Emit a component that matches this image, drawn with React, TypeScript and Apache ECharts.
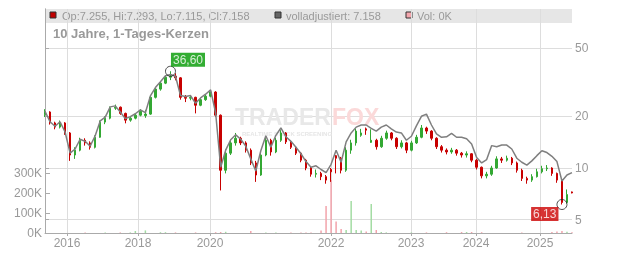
import React, { useEffect, useRef } from 'react';
import * as echarts from 'echarts';

// [open, close, low, high]
const candles: number[][] = [
  [20.5, 21.2, 19.8, 22.0], [21.2, 18.3, 17.9, 21.4], [18.3, 17.3, 16.8, 18.6], [17.3, 18.3, 17.0, 18.9],
  [18.3, 16.0, 15.6, 18.5], [16.0, 11.9, 11.0, 16.2], [11.9, 12.7, 11.3, 13.2], [12.7, 14.5, 12.5, 15.0],
  [14.5, 14.0, 13.5, 14.9], [14.0, 13.2, 12.8, 14.3], [13.2, 15.1, 13.0, 15.5], [15.1, 18.5, 15.0, 18.9],
  [18.5, 19.5, 18.0, 20.0], [19.5, 22.3, 19.2, 22.8], [22.3, 22.6, 21.8, 23.4], [22.6, 20.8, 20.4, 22.8],
  [20.8, 19.0, 18.2, 21.0], [19.0, 19.5, 18.6, 20.0], [19.5, 20.3, 19.2, 20.8], [20.3, 21.4, 20.0, 22.0],
  [20.2, 20.6, 19.6, 21.8], [20.6, 25.8, 20.4, 26.3], [25.8, 28.8, 25.4, 29.3], [28.8, 31.2, 28.2, 31.9],
  [31.2, 33.8, 30.8, 34.6], [33.8, 34.3, 32.5, 36.6], [34.3, 33.5, 32.4, 35.6], [33.5, 25.8, 25.0, 33.8],
  [25.8, 25.5, 24.2, 26.6], [25.5, 25.8, 24.8, 26.5], [25.8, 23.2, 20.8, 26.0], [23.2, 25.0, 22.9, 25.6],
  [25.0, 26.2, 24.6, 26.9], [26.2, 27.7, 25.8, 28.4], [27.7, 20.3, 19.8, 28.0], [20.3, 9.7, 7.4, 20.5],
  [9.7, 12.2, 9.3, 12.8], [12.2, 14.0, 11.9, 14.6], [14.0, 14.9, 13.5, 16.0], [14.9, 14.0, 13.6, 15.2],
  [14.0, 12.7, 12.3, 14.3], [12.7, 10.7, 10.4, 13.0], [10.7, 9.1, 8.3, 11.0], [9.1, 11.9, 9.0, 12.3],
  [11.9, 14.5, 11.7, 15.0], [14.5, 12.4, 11.8, 14.8], [12.4, 14.5, 12.2, 15.0], [14.5, 16.0, 14.2, 16.6],
  [16.0, 14.2, 13.8, 16.2], [14.2, 13.2, 12.9, 14.5], [13.2, 12.2, 11.9, 13.4], [12.2, 11.1, 10.8, 12.4],
  [11.1, 10.0, 9.7, 11.3], [10.0, 9.2, 8.9, 10.2], [9.2, 9.3, 8.8, 9.8], [9.3, 8.9, 8.5, 9.5],
  [8.9, 8.5, 8.1, 9.1], [9.8, 9.5, 8.3, 10.0], [11.8, 11.4, 9.3, 11.9], [11.4, 9.7, 9.3, 11.6],
  [9.7, 12.7, 9.5, 13.2], [12.7, 14.0, 12.1, 14.6], [14.0, 16.4, 13.5, 17.0], [15.5, 16.0, 15.2, 16.9],
  [16.9, 16.6, 15.6, 17.2], [14.1, 14.5, 14.0, 16.8], [14.5, 13.3, 12.8, 14.8], [13.3, 14.9, 13.1, 15.4],
  [14.9, 16.0, 14.6, 16.5], [16.0, 14.9, 14.5, 16.2], [14.9, 13.3, 12.9, 15.1], [13.3, 14.0, 13.0, 14.5],
  [14.0, 12.7, 12.2, 14.2], [12.7, 14.0, 12.5, 14.4], [14.0, 15.1, 13.8, 15.6], [15.1, 17.1, 14.9, 17.8],
  [17.1, 16.4, 15.8, 17.4], [16.4, 14.9, 14.5, 16.6], [14.9, 13.3, 12.9, 15.1], [13.3, 12.7, 12.3, 13.6],
  [12.7, 12.4, 12.0, 13.0], [12.4, 12.7, 12.1, 13.1], [12.7, 12.2, 11.8, 12.9], [12.2, 11.9, 11.5, 12.4],
  [11.9, 12.1, 11.5, 12.5], [12.1, 11.1, 10.8, 12.2], [11.1, 10.1, 9.8, 11.3], [10.1, 9.0, 8.7, 10.2],
  [9.0, 9.2, 8.7, 9.5], [9.2, 10.0, 9.0, 10.3], [10.0, 11.3, 9.9, 11.7], [11.3, 11.1, 10.7, 11.6],
  [11.1, 11.4, 10.9, 11.8], [11.4, 10.7, 10.4, 11.6], [10.7, 9.7, 9.4, 10.9], [9.7, 8.7, 8.4, 9.9],
  [8.7, 8.5, 8.1, 8.9], [8.5, 8.9, 8.3, 9.2], [8.9, 9.5, 8.8, 9.9], [9.5, 9.9, 9.3, 10.3],
  [9.9, 10.0, 9.6, 10.4], [10.0, 9.3, 9.0, 10.1], [9.3, 8.5, 8.2, 9.4], [8.5, 6.3, 6.13, 8.6],
  [6.3, 7.0, 6.2, 7.5], [7.255, 7.158, 7.115, 7.293],
];

const adjusted: number[] = [
  21.4, 18.6, 17.5, 18.6, 16.2, 12.2, 12.9, 14.7, 14.3, 13.4,
  15.4, 18.8, 19.8, 22.7, 23.0, 21.2, 19.4, 19.9, 20.7, 21.8,
  21.0, 26.3, 29.4, 31.8, 34.5, 35.0, 34.2, 26.4, 26.1, 26.4,
  23.8, 25.6, 26.9, 28.5, 20.9, 10.1, 12.7, 14.6, 15.6, 14.7,
  13.4, 11.3, 9.6, 12.6, 15.4, 13.2, 15.5, 17.1, 15.2, 14.3,
  13.2, 12.1, 10.9, 10.1, 10.3, 9.8, 9.4, 10.5, 12.7, 10.8,
  14.2, 16.0, 17.3, 17.8, 17.8, 17.0, 16.4, 17.3, 17.8, 16.9,
  16.2, 16.0, 14.5, 15.3, 17.6, 20.0, 20.6, 17.8, 15.8, 15.1,
  15.2, 15.9, 15.1, 15.1, 14.8, 13.8, 11.5, 10.7, 11.2, 13.5,
  13.3, 13.6, 13.6, 12.9, 11.4, 10.8, 10.4, 11.0, 11.8, 12.6,
  12.3, 11.7, 10.9, 8.4, 9.1, 9.4,
];

// volume in thousands
const volumes: number[] = [
  0, 0, 0, 0, 0, 0, 0, 0, 3, 0,
  0, 0, 3, 0, 0, 3, 0, 3, 10, 0,
  13, 0, 0, 4, 4, 0, 3, 0, 0, 0,
  3, 0, 0, 0, 4, 5, 6, 0, 0, 0,
  0, 10, 0, 0, 3, 0, 3, 0, 0, 3,
  0, 3, 3, 3, 0, 12, 135, 265, 58, 20,
  15, 160, 15, 12, 8, 145, 15, 5, 3, 0,
  0, 0, 0, 3, 0, 0, 3, 0, 0, 0,
  4, 0, 0, 5, 5, 5, 0, 4, 0, 0,
  0, 0, 0, 0, 0, 3, 0, 0, 0, 0,
  0, 5, 8, 10, 6, 4,
];

const years = ['2016', '2018', '2020', '2022', '2023', '2024', '2025'];
const yearPos = [4.38, 18.53, 32.87, 56.98, 72.92, 85.87, 98.62];
const priceTicks = [5, 10, 20, 50];
const volTicksMax = 300;
const legendAdjusted = '7.158';
const legendVol = '0K';
const title = '10 Jahre, 1-Tages-Kerzen';

const FONT = '"Liberation Sans", Arial, sans-serif';
const UP = '#33a833';
const DOWN = '#c80000';

export default function App() {
  const ref = useRef<HTMLDivElement>(null);
  useEffect(() => {
    document.body.style.margin = '0';
    const chart = echarts.init(ref.current!, undefined, { renderer: 'svg' });
    const lg = Math.log10;
    const cats = candles.map((_, i) => String(i));
    const n = candles.length;
    let hiIdx = 0, loIdx = 0;
    candles.forEach((c, i) => {
      if (c[3] > candles[hiIdx][3]) hiIdx = i;
      if (c[2] < candles[loIdx][2]) loIdx = i;
    });
    const fmtDe = (v: number) => v.toFixed(2).replace('.', ',');
    const last = candles[n - 1];
    const yMin = 0.6214, yMax = 1.926;

    chart.setOption({
      animation: false,
      grid: [
        { left: 45, right: 60, top: 9, bottom: 20 },
        { left: 45, right: 60, top: 173, bottom: 20 },
      ],
      xAxis: [
        { type: 'category', gridIndex: 0, data: cats, boundaryGap: false, show: false },
        {
          type: 'value', gridIndex: 0, min: 0, max: n - 1, position: 'bottom',
          axisLine: { show: true, lineStyle: { color: '#aaa' } },
          axisTick: { show: true, length: 3, customValues: yearPos, lineStyle: { color: '#aaa' } },
          axisLabel: {
            show: true, customValues: yearPos, color: '#999', fontSize: 12, fontFamily: FONT, margin: 4,
            formatter: (v: number) => {
              const k = yearPos.findIndex((p) => Math.abs(p - v) < 1e-6);
              return k >= 0 ? years[k] : '';
            },
          },
          splitLine: { show: true, lineStyle: { color: '#ddd' } },
        },
        { type: 'category', gridIndex: 1, data: cats, boundaryGap: false, show: false },
      ],
      yAxis: [
        {
          type: 'value', gridIndex: 0, position: 'right', min: yMin, max: yMax,
          axisLine: { show: true, lineStyle: { color: '#aaa' } },
          axisTick: { show: true, length: 4, customValues: priceTicks.map(lg), lineStyle: { color: '#aaa' } },
          axisLabel: {
            show: true, customValues: priceTicks.map(lg), color: '#999', fontSize: 12, fontFamily: FONT, margin: 3,
            formatter: (v: number) => String(Math.round(Math.pow(10, v))),
          },
          splitLine: { show: true, lineStyle: { color: '#ddd' } },
        },
        {
          type: 'value', gridIndex: 1, position: 'left', min: 0, max: volTicksMax, interval: 100,
          axisLine: { show: false },
          axisTick: { show: true, inside: true, length: 5, lineStyle: { color: '#aaa' } },
          axisLabel: { color: '#999', fontSize: 12, fontFamily: FONT, margin: 3, formatter: (v: number) => v + 'K' },
          splitLine: { show: false },
        },
        {
          type: 'value', gridIndex: 0, position: 'left', min: 0, max: 1,
          axisLine: { show: true, lineStyle: { color: '#aaa' } },
          axisTick: { show: false }, axisLabel: { show: false }, splitLine: { show: false },
        },
      ],
      graphic: [
        { type: 'rect', z: -1, shape: { x: 45, y: 9, width: 527, height: 14 }, style: { fill: '#e6e6e6' } },
        { type: 'rect', shape: { x: 50, y: 12, width: 6, height: 6 }, style: { fill: '#c00000', stroke: '#333', lineWidth: 1 } },
        { type: 'text', x: 62, y: 16, style: { text: `Op:${last[0].toFixed(3)}, Hi:${last[3].toFixed(3)}, Lo:${last[2].toFixed(3)}, Cl:${last[1].toFixed(3)}`, fill: '#999', font: `11px ${FONT}`, verticalAlign: 'middle' } },
        { type: 'rect', shape: { x: 275, y: 12, width: 6, height: 6 }, style: { fill: '#666', stroke: '#333', lineWidth: 1 } },
        { type: 'text', x: 286, y: 16, style: { text: `volladjustiert: ${legendAdjusted}`, fill: '#999', font: `11px ${FONT}`, verticalAlign: 'middle' } },
        { type: 'rect', shape: { x: 406, y: 12, width: 6, height: 6 }, style: { fill: '#f4a6ad', stroke: '#333', lineWidth: 1 } },
        { type: 'text', x: 417, y: 16, style: { text: `Vol: ${legendVol}`, fill: '#999', font: `11px ${FONT}`, verticalAlign: 'middle' } },
        { type: 'text', x: 53, y: 33, style: { text: title, fill: '#999', font: `bold 13px ${FONT}`, verticalAlign: 'middle' } },
        { type: 'text', z: 1, x: 235, y: 117, style: { text: 'TRADER', fill: '#e8e8e8', font: `bold 23px ${FONT}`, verticalAlign: 'middle' } },
        { type: 'text', z: 1, x: 332, y: 117, style: { text: 'FOX', fill: '#fbd9d9', font: `bold 23px ${FONT}`, verticalAlign: 'middle' } },
        { type: 'text', z: 1, x: 242, y: 134, style: { text: 'REALTIME STOCK SCREENING', fill: '#e6e6e6', font: `bold 6px ${FONT}`, verticalAlign: 'middle' } },
      ],
      series: [
        {
          type: 'candlestick', xAxisIndex: 0, yAxisIndex: 0, barWidth: 2, z: 3,
          data: candles.map((c) => [lg(c[0]), lg(c[1]), lg(c[2]), lg(c[3])]),
          itemStyle: { color: UP, color0: DOWN, borderColor: UP, borderColor0: DOWN, borderWidth: 1 },
        },
        {
          type: 'line', xAxisIndex: 0, yAxisIndex: 0, z: 4, symbol: 'none',
          data: adjusted.map(lg),
          lineStyle: { color: '#7f7f7f', width: 1.5 },
        },
        {
          type: 'bar', xAxisIndex: 2, yAxisIndex: 1, barWidth: 1.5,
          data: volumes.map((v, i) => ({
            value: v,
            itemStyle: { color: candles[i][1] >= candles[i][0] ? '#a3dca3' : '#f2a3ab' },
          })),
        },
        {
          type: 'scatter', xAxisIndex: 0, yAxisIndex: 0, z: 6, symbol: 'circle', symbolSize: 10,
          itemStyle: { color: 'rgba(0,0,0,0)', borderColor: '#222', borderWidth: 1 },
          data: [
            {
              value: [hiIdx, lg(candles[hiIdx][3])],
              label: {
                show: true, formatter: fmtDe(candles[hiIdx][3]), position: [6, -13], color: '#fff',
                backgroundColor: '#009900', padding: [1, 2], fontSize: 12, fontFamily: FONT,
              },
            },
            {
              value: [loIdx, lg(candles[loIdx][2])],
              label: {
                show: true, formatter: fmtDe(candles[loIdx][2]), position: [2, 8], align: 'right', color: '#fff',
                backgroundColor: '#cc0000', padding: [1, 2], fontSize: 12, fontFamily: FONT,
              },
            },
          ],
        },
      ],
    });
    return () => chart.dispose();
  }, []);
  return <div ref={ref} style={{ position: 'fixed', left: 0, top: 0, width: 632, height: 253 }} />;
}
